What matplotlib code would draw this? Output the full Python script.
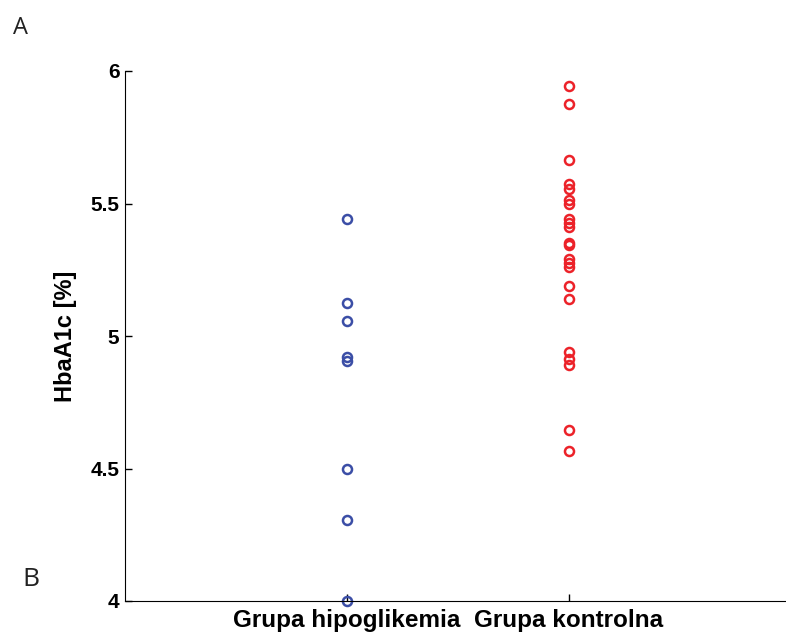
import numpy as np
import matplotlib
matplotlib.use("Agg")
import matplotlib.pyplot as plt

# HbaA1c values
groups = ["Grupa hipoglikemia", "Grupa kontrolna"]
hipo = [5.44, 5.125, 5.055, 4.92, 4.905, 4.50, 4.305, 4.00]
kontrol = [5.945, 5.875, 5.665, 5.575, 5.555, 5.515, 5.50, 5.44, 5.425,
           5.41, 5.35, 5.345, 5.29, 5.275, 5.26, 5.19, 5.14, 4.94, 4.915,
           4.89, 4.645, 4.565]

colors = ["#3b4ea6", "#ec2229"]

plt.rcParams["font.family"] = ["Liberation Sans", "DejaVu Sans"]

fig = plt.figure(figsize=(7.86, 6.33), dpi=100)
ax = fig.add_axes([125 / 786, 1 - 601 / 633, 1 - 125 / 786, (601 - 71) / 633])

for i, vals in enumerate([hipo, kontrol]):
    ax.plot(np.full(len(vals), i + 1), vals, "o", mfc="none",
            mec=colors[i], mew=1.8, ms=6.5, clip_on=False)

ax.set_xlim(0, 2.98)
ax.set_ylim(4, 6)
ax.set_xticks([1, 2])
ax.set_xticklabels(groups, fontsize=17.5, fontweight="bold")
ax.set_yticks([4, 4.5, 5, 5.5, 6])
ax.set_yticklabels(["4", "4.5", "5", "5.5", "6"], fontsize=15, fontweight="bold")
ax.tick_params(direction="in", length=5, width=1)
ax.tick_params(axis="x", pad=6)
ax.tick_params(axis="y", pad=4)
ax.spines["top"].set_visible(False)
ax.spines["right"].set_visible(False)
ax.set_ylabel("HbaA1c [%]", fontsize=17, fontweight="bold", labelpad=10)

fig.text(13 / 786, 1 - 28 / 633, "A", fontsize=17, family="Open Sans",
         va="center", color="#222222")
fig.text(22 / 786, 1 - 580 / 633, "B", fontsize=19, family="Open Sans",
         va="center", color="#222222")

fig.savefig("out.png", dpi=100)
